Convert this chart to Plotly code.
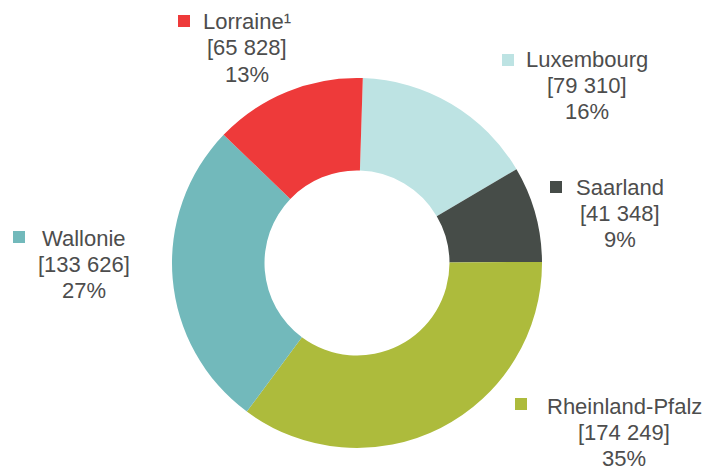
import plotly.graph_objects as go

# Regions, in clockwise order from 12 o'clock
regions = ["Luxembourg", "Saarland", "Rheinland-Pfalz", "Wallonie", "Lorraine¹"]
values = [79310, 41348, 174249, 133626, 65828]
value_labels = ["[79 310]", "[41 348]", "[174 249]", "[133 626]", "[65 828]"]
pct_labels = ["16%", "9%", "35%", "27%", "13%"]
colors = ["#BDE3E3", "#464C48", "#ADBB3C", "#72B9BB", "#EE3A3A"]

W, H = 706, 466
TEXT_COLOR = "#4D4D4D"
FONT = "Liberation Sans, Arial, sans-serif"

# Label block placement in pixels: (marker centre x, marker centre y, text centre x, first line y)
label_pos = {
    "Luxembourg": (508, 60, 587, 60),
    "Saarland": (556, 187, 620, 187),
    "Rheinland-Pfalz": (521, 404, 624, 406),
    "Wallonie": (19, 237, 84, 238),
    "Lorraine¹": (184, 21, 247, 22),
}
LINE_STEP = 26
SQ = 12


def px(x):
    return x / W


def py(y):
    return 1 - y / H


# Donut geometry in pixels
cx, cy, r = 357, 263, 185

fig = go.Figure(
    go.Pie(
        labels=regions,
        values=values,
        marker=dict(colors=colors, line=dict(width=0)),
        hole=0.5,
        sort=False,
        direction="clockwise",
        rotation=1.8,
        textinfo="none",
        hoverinfo="label+value+percent",
        domain=dict(x=[px(cx - r), px(cx + r)], y=[py(cy + r), py(cy - r)]),
    )
)

annotations = []
shapes = []
for name, vlab, plab, col in zip(regions, value_labels, pct_labels, colors):
    mx, my, tx, ty = label_pos[name]
    shapes.append(
        dict(
            type="rect", xref="paper", yref="paper",
            x0=px(mx - SQ / 2), x1=px(mx + SQ / 2),
            y0=py(my + SQ / 2), y1=py(my - SQ / 2),
            fillcolor=col, line=dict(width=0),
        )
    )
    for i, line in enumerate([name, vlab, plab]):
        annotations.append(
            dict(
                text=line, xref="paper", yref="paper",
                x=px(tx), y=py(ty + i * LINE_STEP),
                xanchor="center", yanchor="middle",
                showarrow=False,
                font=dict(family=FONT, size=22, color=TEXT_COLOR),
            )
        )

fig.update_layout(
    width=W, height=H,
    margin=dict(l=0, r=0, t=0, b=0),
    paper_bgcolor="white",
    plot_bgcolor="white",
    showlegend=False,
    annotations=annotations,
    shapes=shapes,
)

fig.write_html("out.html")
